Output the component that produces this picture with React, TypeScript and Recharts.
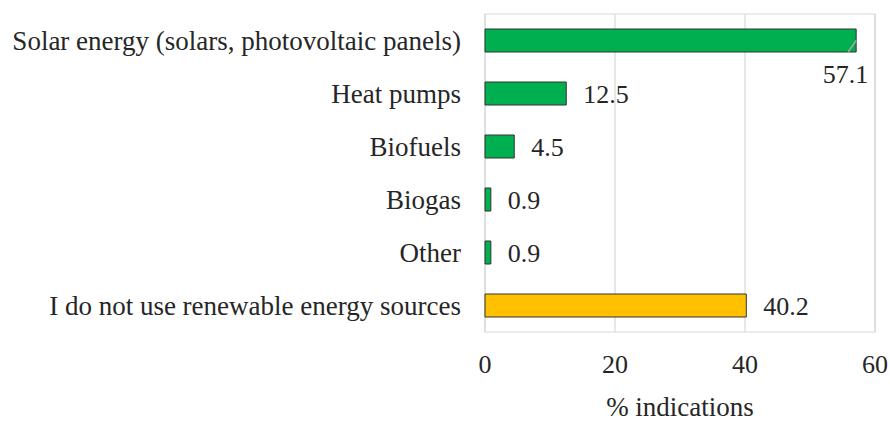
import React from 'react';
import { BarChart, Bar, XAxis, YAxis, CartesianGrid, Cell, LabelList, ReferenceArea } from 'recharts';

const categories = [
  'Solar energy (solars, photovoltaic panels)',
  'Heat pumps',
  'Biofuels',
  'Biogas',
  'Other',
  'I do not use renewable energy sources',
];
const values = [57.1, 12.5, 4.5, 0.9, 0.9, 40.2];
const barColors = ['#00B050', '#00B050', '#00B050', '#00B050', '#00B050', '#FFC000'];
const xTicks = [0, 20, 40, 60];
const xLabel = '% indications';

const data = categories.map((name, i) => ({ name, value: values[i], color: barColors[i] }));

const FONT = '"Liberation Serif", "Times New Roman", serif';
const TEXT = '#262626';

const ValueLabel = (props: any) => {
  const { x, y, width, height, value, index } = props;
  const label = Number(value).toFixed(1);
  if (index === 0) {
    const ex = x + width;
    return (
      <g>
        <line x1={ex} y1={y + height * 0.5} x2={ex - 8} y2={y + height} stroke="#A6A6A6" strokeWidth={1.5} />
        <text x={ex + 12} y={y + height + 31} textAnchor="end" fontSize={26} fontFamily={FONT} fill={TEXT}>
          {label}
        </text>
      </g>
    );
  }
  return (
    <text x={x + width + 17} y={y + height / 2 + 9} textAnchor="start" fontSize={26} fontFamily={FONT} fill={TEXT}>
      {label}
    </text>
  );
};

export default function App() {
  return (
    <div style={{ position: 'absolute', left: 0, top: 0, width: 890, height: 423, background: '#fff' }}>
      <BarChart
        width={890}
        height={423}
        data={data}
        layout="vertical"
        margin={{ top: 14, right: 15, left: 0, bottom: 0 }}
      >
        <CartesianGrid horizontal={false} stroke="#D9D9D9" strokeWidth={1.2} />
        <ReferenceArea x1={0} x2={60} fill="none" stroke="#D9D9D9" strokeWidth={1.2} ifOverflow="visible" />
        <XAxis
          type="number"
          domain={[0, 60]}
          ticks={xTicks}
          axisLine={false}
          tickLine={false}
          tickSize={0}
          tickMargin={23}
          height={91}
          tick={{ fontSize: 26, fontFamily: FONT, fill: TEXT }}
          label={{ value: xLabel, position: 'insideBottom', offset: 7, fontSize: 27, fontFamily: FONT, fill: TEXT }}
        />
        <YAxis
          type="category"
          dataKey="name"
          width={485}
          axisLine={false}
          tickLine={false}
          tickSize={0}
          tickMargin={24}
          interval={0}
          tick={{ fontSize: 27, fontFamily: FONT, fill: TEXT }}
        />
        <Bar dataKey="value" barSize={23} stroke="#333333" strokeWidth={1} isAnimationActive={false}>
          {data.map((d, i) => (
            <Cell key={i} fill={d.color} />
          ))}
          <LabelList dataKey="value" content={ValueLabel} />
        </Bar>
      </BarChart>
    </div>
  );
}
